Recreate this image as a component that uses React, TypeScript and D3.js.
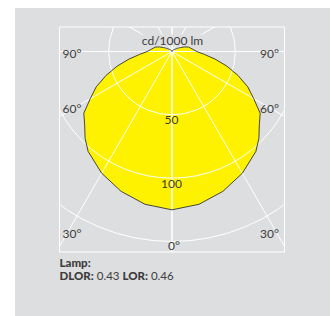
import React, { useEffect, useRef } from 'react';
import * as d3 from 'd3';

// luminous intensity, cd/1000 lm, symmetric about the vertical axis
const angles = [0, 10, 20, 30, 40, 45, 50, 55, 60, 65, 70, 75, 80, 85, 90, 95, 100, 105, 110, 115, 120, 130, 140, 150, 165, 180];
const intensity = [125, 122.5, 117.5, 111, 103, 97, 90, 85, 74.5, 66, 55.5, 45, 34.5, 25.5, 19.5, 17, 15, 13.5, 10.5, 7.5, 5, 2.5, 1.5, 1, 0.5, 0];

const gridAngles = [0, 30, 60, 90, 120, 150, 180];
const gridRings = [50, 100, 150, 200];
const ringLabels = [50, 100];
const sideLabels = ['90°', '60°', '30°'];
const unitLabel = 'cd/1000 lm';
const dlor = 0.43;
const lor = 0.46;

const BG = '#dddedf';
const INK = '#3c3c3c';
const FONT = 'Lato, "Open Sans", sans-serif';

const W = 331;
const H = 316;

const App: React.FC = () => {
  const svgRef = useRef<SVGSVGElement>(null);

  useEffect(() => {
    if (!svgRef.current) return;
    const svg = d3.select(svgRef.current);
    svg.selectAll('*').remove();

    const frame = { x0: 59.5, y0: 27, x1: 284.5, y1: 252 };
    const cx = (frame.x0 + frame.x1) / 2;
    const cy = 51.5;

    const r = d3.scaleLinear().domain([0, 150]).range([0, 190]);
    const rad = (deg: number) => (deg * Math.PI) / 180;

    // gray panel
    svg.append('rect')
      .attr('x', 15).attr('y', 8)
      .attr('width', W - 16).attr('height', H - 8)
      .attr('fill', BG);

    svg.append('clipPath').attr('id', 'frameClip')
      .append('rect')
      .attr('x', frame.x0).attr('y', frame.y0)
      .attr('width', frame.x1 - frame.x0).attr('height', frame.y1 - frame.y0);

    const g = svg.append('g')
      .attr('clip-path', 'url(#frameClip)')
      .append('g')
      .attr('transform', `translate(${cx},${cy})`);

    // closed curve: right half then left half (d3 radial angle 0 = up)
    const pts: [number, number][] = [];
    angles.forEach((a, i) => pts.push([Math.PI - rad(a), r(intensity[i])]));
    for (let i = angles.length - 1; i >= 0; i--) pts.push([Math.PI + rad(angles[i]), r(intensity[i])]);

    const curve = d3.lineRadial<[number, number]>()
      .angle(d => d[0])
      .radius(d => d[1])
      .curve(d3.curveLinearClosed);

    g.append('path')
      .attr('d', curve(pts))
      .attr('fill', '#fff200');

    // radial lines
    const far = r(300);
    gridAngles.forEach(a => {
      [-1, 1].forEach(s => {
        g.append('line')
          .attr('x1', 0).attr('y1', 0)
          .attr('x2', s * far * Math.sin(rad(a)))
          .attr('y2', far * Math.cos(rad(a)))
          .attr('stroke', '#fff').attr('stroke-width', 1);
      });
    });

    gridRings.forEach(v => {
      g.append('circle')
        .attr('r', r(v))
        .attr('fill', 'none')
        .attr('stroke', '#fff').attr('stroke-width', 1);
    });

    g.append('path')
      .attr('d', curve(pts))
      .attr('fill', 'none')
      .attr('stroke', '#333')
      .attr('stroke-width', 0.9)
      .attr('stroke-linejoin', 'round');

    // frame
    svg.append('rect')
      .attr('x', frame.x0).attr('y', frame.y0)
      .attr('width', frame.x1 - frame.x0).attr('height', frame.y1 - frame.y0)
      .attr('fill', 'none')
      .attr('stroke', '#fff').attr('stroke-width', 1);

    const txt = (x: number, y: number, s: string, anchor = 'start', size = 12) =>
      svg.append('text')
        .attr('x', x).attr('y', y)
        .attr('text-anchor', anchor)
        .style('font-family', FONT)
        .style('font-size', `${size}px`)
        .style('fill', INK)
        .text(s);

    // unit label on a gray patch
    svg.append('rect')
      .attr('x', cx - 32).attr('y', 34.5)
      .attr('width', 65).attr('height', 11)
      .attr('fill', BG);
    txt(cx + 0.5, 44.5, unitLabel, 'middle');

    const sideY = [57.5, 112.5, 237.5];
    sideLabels.forEach((s, i) => {
      txt(frame.x0 + 3, sideY[i], s);
      txt(frame.x1 - 5.5, sideY[i], s, 'end');
    });

    ringLabels.forEach(v => {
      txt(cx - 0.5, cy + r(v) + 9.5, String(v), 'middle');
    });
    txt(cx + 2, 249.5, '0°', 'middle');

    // lamp info
    txt(frame.x0, 267, 'Lamp:', 'start', 11.5).style('font-weight', '900');
    const t = txt(frame.x0, 279.5, '', 'start', 11.5);
    t.append('tspan').style('font-weight', '900').text('DLOR:');
    t.append('tspan').text(` ${dlor} `);
    t.append('tspan').style('font-weight', '900').text('LOR:');
    t.append('tspan').text(` ${lor}`);
  }, []);

  return (
    <svg
      ref={svgRef}
      width={W}
      height={H}
      style={{ position: 'absolute', left: 0, top: 0, background: '#fff' }}
    />
  );
};

export default App;
